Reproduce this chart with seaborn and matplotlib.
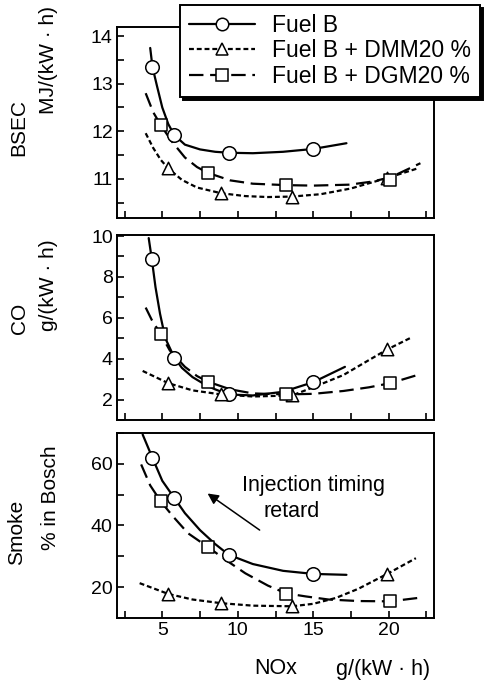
import pandas as pd
import seaborn as sns
import matplotlib.pyplot as plt
from matplotlib.lines import Line2D
from matplotlib.ticker import MultipleLocator

# fuel labels
fuels = ["Fuel B", "Fuel B + DMM20 %", "Fuel B + DGM20 %"]

# measured NOx of each fuel, g/(kW h)
nox_b = [4.35, 5.8, 9.4, 15.0]
nox_dmm = [5.4, 8.9, 13.6, 19.9]
nox_dgm = [4.9, 8.0, 13.2, 20.1]

# measured BSEC, MJ/(kW h)
bsec_b = [13.35, 11.92, 11.55, 11.63]
bsec_dmm = [11.22, 10.70, 10.63, 11.02]
bsec_dgm = [12.13, 11.13, 10.87, 10.98]

# measured CO, g/(kW h)
co_b = [8.9, 4.05, 2.25, 2.85]
co_dmm = [2.8, 2.25, 2.2, 4.45]
co_dgm = [5.2, 2.88, 2.25, 2.8]

# measured smoke, % in Bosch
smoke_b = [61.9, 48.9, 30.3, 24.3]
smoke_dmm = [17.8, 14.8, 13.8, 24.3]
smoke_dgm = [47.8, 33.1, 17.8, 15.6]

# fitted curves
bsec_b_cx = [4.2, 4.35, 4.65, 5.0, 5.4, 5.8, 6.5, 7.5, 8.5, 9.4, 11.0, 13.0, 15.0, 17.2]
bsec_b_cy = [13.75, 13.35, 12.95, 12.5, 12.15, 11.92, 11.72, 11.62, 11.57, 11.55, 11.54, 11.57, 11.63, 11.75]
bsec_dmm_cx = [3.9, 4.4, 4.9, 5.4, 6.3, 7.3, 8.9, 10.5, 12.0, 13.6, 15.5, 17.5, 19.9, 22.0]
bsec_dmm_cy = [11.96, 11.65, 11.4, 11.22, 10.98, 10.82, 10.70, 10.64, 10.62, 10.63, 10.68, 10.8, 11.02, 11.23]
bsec_dgm_cx = [3.9, 4.4, 4.9, 5.6, 6.5, 7.3, 8.0, 9.5, 11.0, 13.2, 15.0, 17.4, 18.8, 20.1, 22.1]
bsec_dgm_cy = [12.8, 12.4, 12.13, 11.8, 11.45, 11.25, 11.13, 10.97, 10.9, 10.87, 10.86, 10.88, 10.94, 11.03, 11.33]

co_b_cx = [4.1, 4.3, 4.55, 4.85, 5.2, 5.8, 6.3, 7.0, 7.9, 8.5, 9.4, 11.0, 13.0, 15.0, 17.1]
co_b_cy = [9.9, 8.9, 7.5, 6.2, 5.0, 4.05, 3.55, 3.1, 2.7, 2.5, 2.25, 2.2, 2.38, 2.85, 3.6]
co_dmm_cx = [3.7, 5.4, 7.0, 8.9, 11.0, 13.6, 15.0, 17.0, 18.5, 19.9, 21.4]
co_dmm_cy = [3.4, 2.8, 2.45, 2.25, 2.15, 2.2, 2.6, 3.2, 3.85, 4.45, 5.0]
co_dgm_cx = [3.9, 4.3, 4.9, 5.5, 6.5, 7.3, 8.0, 9.5, 11.0, 13.2, 15.0, 17.0, 18.7, 20.1, 21.9]
co_dgm_cy = [6.5, 5.9, 5.2, 4.4, 3.6, 3.15, 2.88, 2.5, 2.3, 2.25, 2.28, 2.42, 2.6, 2.8, 3.2]

smoke_b_cx = [3.7, 4.0, 4.35, 5.0, 5.8, 6.5, 7.5, 8.5, 9.4, 11.0, 13.0, 15.0, 17.2]
smoke_b_cy = [69.5, 66.0, 61.9, 54.5, 48.9, 44.0, 38.5, 34.0, 30.5, 27.5, 25.3, 24.3, 24.0]
smoke_dmm_cx = [3.5, 5.4, 7.0, 8.9, 11.0, 13.6, 15.0, 16.5, 18.0, 19.9, 21.8]
smoke_dmm_cy = [21.3, 17.8, 16.0, 14.8, 14.0, 13.8, 14.6, 16.5, 19.5, 24.3, 29.4]
smoke_dgm_cx = [3.6, 4.2, 4.9, 5.7, 6.7, 8.0, 9.3, 10.5, 12.0, 13.2, 14.5, 16.0, 18.0, 20.1, 22.1]
smoke_dgm_cy = [59.8, 53.0, 47.8, 43.0, 37.5, 33.1, 28.5, 24.5, 20.5, 18.0, 17.0, 16.0, 15.5, 15.4, 16.6]

sns.set_style("ticks")
plt.rcParams['font.family'] = ['Liberation Sans', 'DejaVu Sans']
plt.rcParams['font.size'] = 12
for key in ["text.color", "axes.labelcolor", "xtick.color", "ytick.color", "axes.edgecolor"]:
    plt.rcParams[key] = "black"

styles = {
    fuels[0]: dict(ls="-", marker="o"),
    fuels[1]: dict(ls=(0, (2.2, 1.3)), marker="^"),
    fuels[2]: dict(ls=(0, (6.5, 3)), marker="s"),
}

fig = plt.figure(figsize=(4.91, 6.83), dpi=100)
W, H = 491, 683
left, right = 117 / W, 434 / W
boxes = [(27, 218), (235, 420), (433, 618)]
axes = [fig.add_axes([left, 1 - b / H, right - left, (b - t) / H]) for t, b in boxes]

panels = [
    (
        [(nox_b, bsec_b, bsec_b_cx, bsec_b_cy),
         (nox_dmm, bsec_dmm, bsec_dmm_cx, bsec_dmm_cy),
         (nox_dgm, bsec_dgm, bsec_dgm_cx, bsec_dgm_cy)],
        (10.18, 14.19), 1, 0.5,
    ),
    (
        [(nox_b, co_b, co_b_cx, co_b_cy),
         (nox_dmm, co_dmm, co_dmm_cx, co_dmm_cy),
         (nox_dgm, co_dgm, co_dgm_cx, co_dgm_cy)],
        (1.0, 10.05), 2, 1,
    ),
    (
        [(nox_b, smoke_b, smoke_b_cx, smoke_b_cy),
         (nox_dmm, smoke_dmm, smoke_dmm_cx, smoke_dmm_cy),
         (nox_dgm, smoke_dgm, smoke_dgm_cx, smoke_dgm_cy)],
        (10, 70), 20, 10,
    ),
]

for ax, (data, ylim, major, minor) in zip(axes, panels):
    for fuel, (px, py, cx, cy) in zip(fuels, data):
        st = styles[fuel]
        curve = pd.DataFrame({"x": cx, "y": cy})
        sns.lineplot(data=curve, x="x", y="y", ax=ax, color="black", lw=1.6,
                     linestyle=st["ls"], sort=False, estimator=None, zorder=2)
        pts = pd.DataFrame({"x": px, "y": py})
        size = 95 if st["marker"] == "o" else 80
        sns.scatterplot(data=pts, x="x", y="y", ax=ax, marker=st["marker"], s=size,
                        facecolor="white", edgecolor="black", linewidth=1.1, zorder=3)
    ax.set_xlim(2, 23)
    ax.set_ylim(*ylim)
    ax.xaxis.set_major_locator(MultipleLocator(5))
    ax.xaxis.set_minor_locator(MultipleLocator(2.5))
    ax.yaxis.set_major_locator(MultipleLocator(major))
    ax.yaxis.set_minor_locator(MultipleLocator(minor))
    ax.tick_params(which="both", direction="in", length=5, width=1.2, labelsize=14, pad=3)
    ax.set_xlabel("")
    ax.set_ylabel("")
    for sp in ax.spines.values():
        sp.set_linewidth(1.4)
    if ax is not axes[-1]:
        ax.tick_params(labelbottom=False)

# y axis labels (two columns, rotated)
ylab = dict(rotation=90, ha="center", va="center", fontsize=15)
fig.text(19 / W, 1 - 127 / H, "BSEC", **ylab)
fig.text(49 / W, 1 - 60 / H, "MJ/(kW · h)", **ylab)
fig.text(19 / W, 1 - 318 / H, "CO", **ylab)
fig.text(49 / W, 1 - 285 / H, "g/(kW · h)", **ylab)
fig.text(17 / W, 1 - 532 / H, "Smoke", **ylab)
fig.text(50 / W, 1 - 498 / H, "% in Bosch", **ylab)

# x label
fig.text(276 / W, 1 - 669 / H, "NOx", ha="center", va="center", fontsize=15.5)
fig.text(383 / W, 1 - 669 / H, "g/(kW · h)", ha="center", va="center", fontsize=15.5)

# annotation in smoke panel
ax = axes[2]
ax.annotate("", xy=(7.85, 50.9), xytext=(11.6, 38.0),
            arrowprops=dict(arrowstyle="-|>", color="black", lw=1.1, mutation_scale=16))
ax.text(15.0, 53.0, "Injection timing", ha="center", va="center", fontsize=15.5)
ax.text(13.6, 44.5, "retard", ha="center", va="center", fontsize=15.5)

# legend
handles = [Line2D([], [], color="black", lw=1.6, linestyle=styles[f]["ls"],
                  marker=styles[f]["marker"], markersize=9, markerfacecolor="white",
                  markeredgecolor="black", markeredgewidth=1.1) for f in fuels]
leg = fig.legend(handles, fuels, loc="upper right", bbox_to_anchor=(480 / W, 1 - 5 / H),
                 borderaxespad=0, frameon=True, fancybox=False, edgecolor="black",
                 framealpha=1, shadow={"color": "black", "alpha": 1}, handlelength=2.85,
                 fontsize=16.5, borderpad=0.4, labelspacing=0.1, handletextpad=0.75)
leg.get_frame().set_linewidth(1.4)

fig.savefig("out.png", dpi=100)
